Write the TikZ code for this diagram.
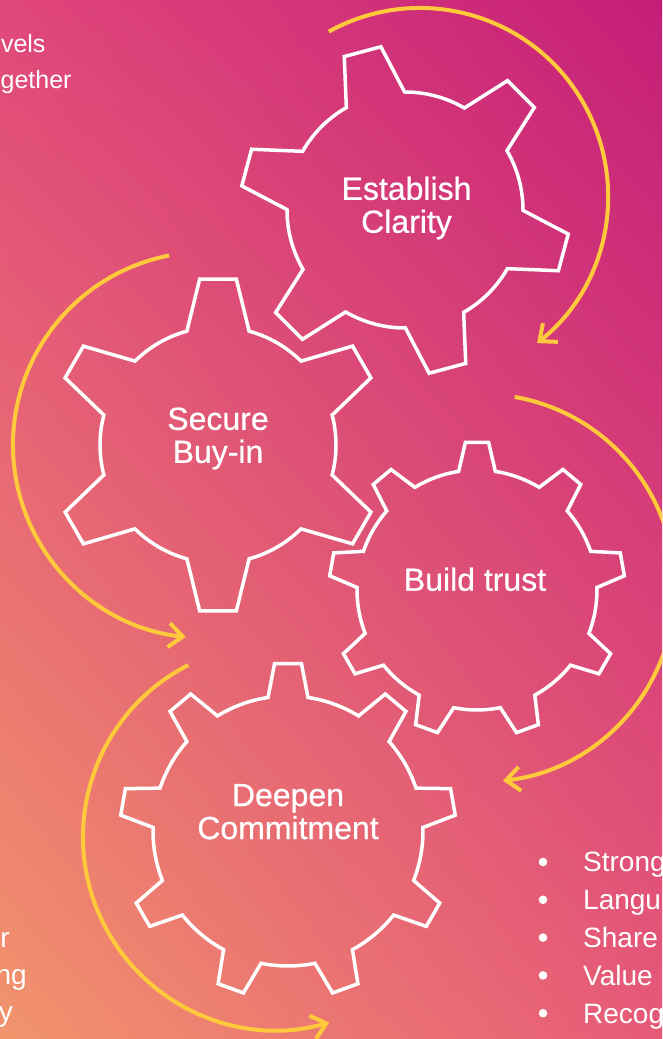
\documentclass[tikz,border=0pt]{standalone}
\usepackage{fontspec}
\setmainfont{Liberation Sans}
\newfontfamily\labelfont{Liberation Sans}[FakeBold=0.6]
\usetikzlibrary{arrows.meta,shadings}

\definecolor{bgtopleft}{HTML}{E0477A}
\definecolor{bgtopright}{HTML}{C41E78}
\definecolor{bgbottomleft}{HTML}{F2946C}
\definecolor{bgbottomright}{HTML}{E65A78}
\definecolor{cogyellow}{HTML}{FFC93C}

% cog outline: centre, teeth, first tooth angle, root r, tip r, half angle at root, half angle at tip
\newcommand{\drawgear}[7]{%
  \begin{scope}[shift={#1}]
    \pgfmathsetmacro\gstep{360/#2}
    \draw[gearline] ({#3-#6}:#4)
      \foreach \k in {1,...,#2}{
        -- ({#3+(\k-1)*\gstep-#7}:#5) -- ({#3+(\k-1)*\gstep+#7}:#5)
        -- ({#3+(\k-1)*\gstep+#6}:#4)
        arc[start angle={#3+(\k-1)*\gstep+#6}, delta angle={\gstep-2*#6}, radius=#4]
      } -- cycle;
  \end{scope}}

\begin{document}
\begin{tikzpicture}[x=1pt,y=1pt,
    gearline/.style={white, line width=3.5pt, line join=miter},
    turnarrow/.style={cogyellow, line width=4pt, -{Straight Barb[length=14pt,width=24pt]}},
    gearlabel/.style={white, align=center, inner sep=0pt, font=\labelfont\fontsize{32}{33}\selectfont},
    sidetext/.style={white, inner sep=0pt, font=\fontsize{25}{30}\selectfont},
    listtext/.style={white, inner sep=0pt, font=\fontsize{28}{34}\selectfont}]

\useasboundingbox (0,0) rectangle (662,1039);
\clip (0,0) rectangle (662,1039);
\shade[upper left=bgtopleft, upper right=bgtopright,
       lower left=bgbottomleft, lower right=bgbottomright] (0,0) rectangle (662,1039);

% the four cogs
\drawgear{(405,829)}{6}{105}{118}{165}{14.8}{6.6}
\drawgear{(218,594)}{6}{90}{118}{167}{15.3}{6.3}
\drawgear{(477,449)}{9}{90}{120}{148}{8.8}{4.5}
\drawgear{(288,208)}{9}{90}{135}{168}{8.5}{4.6}

\node[gearlabel] (clarity) at (406.5,831) {Establish\\Clarity};
\node[gearlabel] (buyin)   at (218,600.5) {Secure\\Buy-in};
\node[gearlabel] (trust)   at (475,459.7) {Build trust};
\node[gearlabel] (commit)  at (288,227.3) {Deepen\\Commitment};

% turning arrows round each cog
\draw[turnarrow] (420,843) ++(119:188) arc[start angle=119, end angle=-51.5, radius=188];
\draw[turnarrow] (206,594) ++(101:193) arc[start angle=101, end angle=264, radius=193];
\draw[turnarrow] (481,451) ++(80:194)  arc[start angle=80, end angle=-83.5, radius=194];
\draw[turnarrow] (276,202) ++(117:193) arc[start angle=117, end angle=286, radius=193];

% text running in from the sides
\node[sidetext, anchor=base east] (introa) at (45.7,986) {vels};
\node[sidetext, anchor=base east] (introb) at (71.7,950) {gether};
\node[listtext, anchor=base east] (outroa) at (10,91) {r};
\node[listtext, anchor=base east] (outrob) at (27,54) {ng};
\node[listtext, anchor=base east] (outroc) at (13,17) {y};

\foreach \word [count=\i] in {Strong,Langu,Share,Value,Recog}{
  \fill[white] (543,{177-37.8*(\i-1)}) circle (4.3);
  \node[listtext, anchor=base west] (item\i) at (583,{167-37.8*(\i-1)}) {\word};
}
\end{tikzpicture}
\end{document}
